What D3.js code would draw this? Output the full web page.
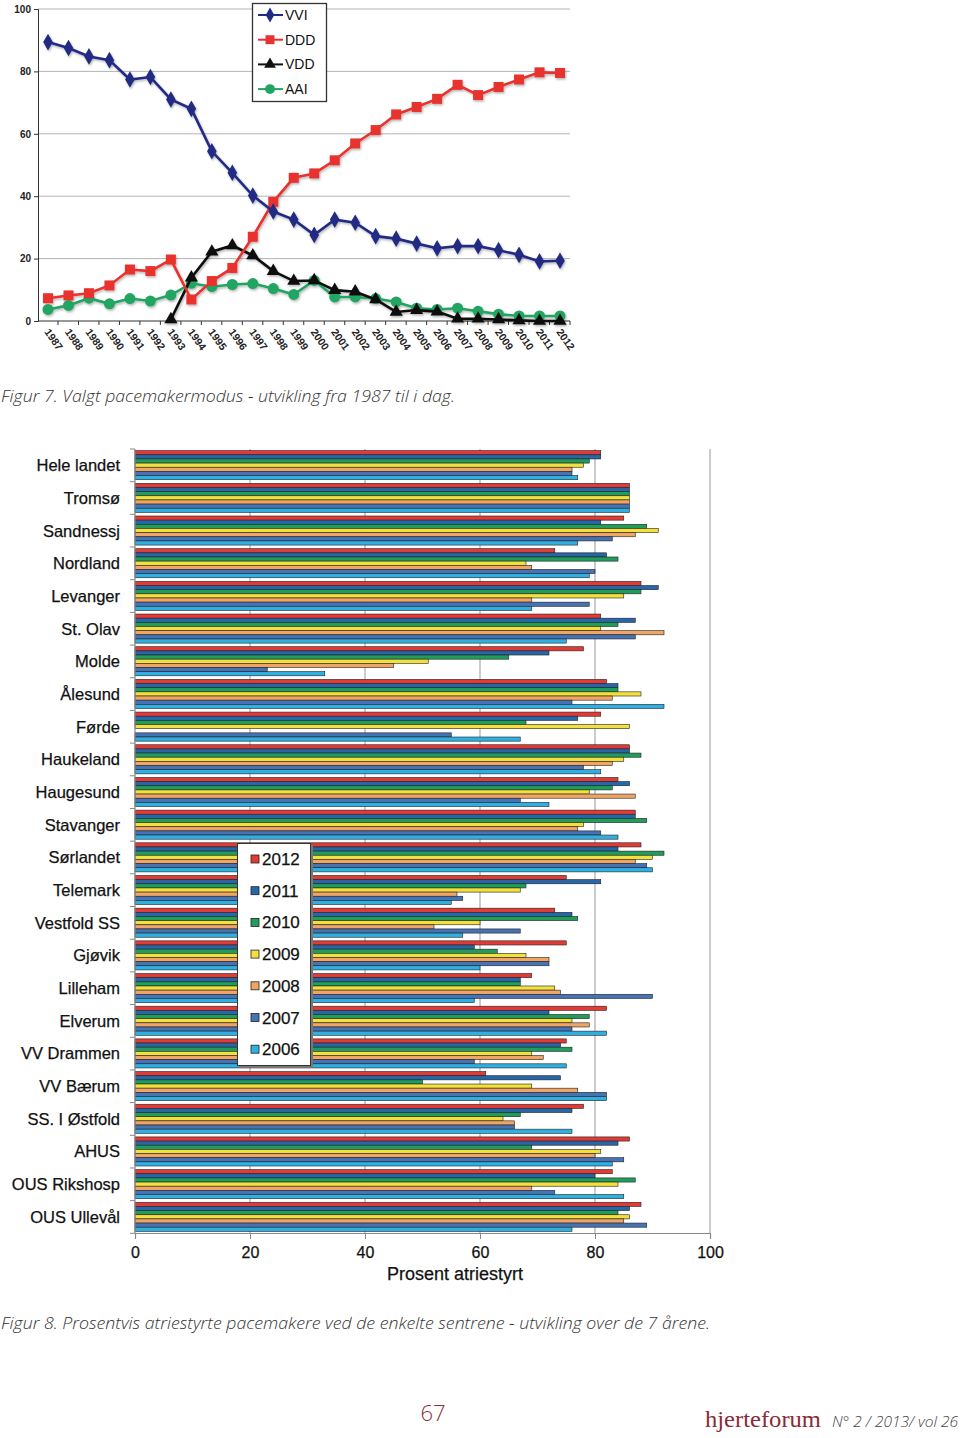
<!DOCTYPE html>
<html>
<head>
<meta charset="utf-8">
<script src="https://cdn.jsdelivr.net/npm/d3@7"></script>
<style>
  body { margin: 0; background: #fff; }
  svg { display: block; }
</style>
</head>
<body>
<svg width="960" height="1438"></svg>
<script>
// ---- Figur 7: pacemaker mode per year ----
const years = [1987, 1988, 1989, 1990, 1991, 1992, 1993, 1994, 1995, 1996, 1997, 1998, 1999,
               2000, 2001, 2002, 2003, 2004, 2005, 2006, 2007, 2008, 2009, 2010, 2011, 2012];
const vvi = [89.4, 87.5, 84.8, 83.6, 77.4, 78.2, 71, 68, 54.4, 47.5, 40.2, 35.1, 32.5,
             27.6, 32.5, 31.5, 27.2, 26.4, 24.8, 23.3, 24, 24, 22.7, 21.2, 19.1, 19.3];
const ddd = [7.3, 8.2, 8.9, 11.4, 16.5, 16, 19.7, 6.9, 12.8, 17, 27, 38.2, 45.9,
             47.3, 51.5, 56.9, 61.2, 66.2, 68.6, 71.2, 75.7, 72.4, 75, 77.4, 79.7, 79.5];
const vdd = [null, null, null, null, null, null, 0.5, 13.9, 22.2, 24.2, 21, 16, 12.8,
             13, 9.9, 9.4, 6.9, 2.9, 3.5, 3, 0.7, 0.7, 0.5, 0.2, 0, 0];
const aai = [3.7, 5, 7.3, 5.5, 7.2, 6.4, 8.3, 12.1, 11, 11.7, 12, 10.4, 8.5,
             13, 7.7, 7.7, 7.2, 6.1, 4.1, 3.7, 4.1, 3.1, 2.2, 1.6, 1.6, 1.6];
const modeNames = ['VVI', 'DDD', 'VDD', 'AAI'];
const modeTicks = [0, 20, 40, 60, 80, 100];

// ---- Figur 8: percent atrial-controlled per centre ----
const centers = ['Hele landet', 'Tromsø', 'Sandnessj', 'Nordland', 'Levanger', 'St. Olav', 'Molde',
                 'Ålesund', 'Førde', 'Haukeland', 'Haugesund', 'Stavanger', 'Sørlandet', 'Telemark',
                 'Vestfold SS', 'Gjøvik', 'Lilleham', 'Elverum', 'VV Drammen', 'VV Bærum',
                 'SS. I Østfold', 'AHUS', 'OUS Rikshosp', 'OUS Ullevål'];
const barYears = ['2012', '2011', '2010', '2009', '2008', '2007', '2006'];
const pct2012 = [81, 86, 85, 73, 88, 81, 78, 82, 81, 86, 84, 87, 88, 75, 73, 75, 69, 82, 75, 61, 78, 86, 83, 88];
const pct2011 = [81, 86, 81, 82, 91, 87, 72, 84, 77, 86, 86, 87, 84, 81, 76, 59, 67, 72, 74, 74, 76, 84, 80, 86];
const pct2010 = [79, 86, 89, 84, 88, 84, 65, 84, 68, 88, 83, 89, 92, 68, 77, 63, 67, 79, 76, 50, 67, 69, 87, 84];
const pct2009 = [78, 86, 91, 68, 85, 81, 51, 88, 86, 85, 79, 78, 90, 67, 60, 68, 73, 76, 69, 69, 64, 81, 84, 86];
const pct2008 = [76, 86, 87, 69, 69, 92, 45, 83, null, 83, 87, 77, 87, 56, 52, 72, 74, 79, 71, 77, 66, 80, 69, 85];
const pct2007 = [76, 86, 83, 80, 79, 87, 23, 76, 55, 78, 67, 81, 89, 57, 67, 72, 90, 76, 59, 82, 66, 85, 73, 89];
const pct2006 = [77, 86, 77, 79, 69, 75, 33, 92, 67, 81, 72, 84, 90, 55, 57, 60, 59, 82, 75, 82, 76, 83, 85, 76];
const pctTicks = [0, 20, 40, 60, 80, 100];

const svg = d3.select('svg');
const sans = 'Liberation Sans, Arial, sans-serif';

// drop shadow used by the line chart
const defs = svg.append('defs');
defs.append('filter').attr('id', 'shadow')
    .attr('x', '-10%').attr('y', '-10%').attr('width', '130%').attr('height', '130%')
  .append('feDropShadow')
    .attr('dx', 1).attr('dy', 1.5).attr('stdDeviation', 1)
    .attr('flood-color', '#000').attr('flood-opacity', 0.3);

/* ================= Figur 7 ================= */
const x1 = d3.scalePoint().domain(years).range([48, 560]);
const y1 = d3.scaleLinear().domain([0, 100]).range([321, 9]);

const modeChart = svg.append('g');

// gridlines
modeChart.append('g').selectAll('line')
    .data(modeTicks.filter(d => d > 0))
    .enter().append('line')
        .attr('x1', 38).attr('x2', 570)
        .attr('y1', d => y1(d)).attr('y2', d => y1(d))
        .attr('stroke', '#b4b4b4').attr('stroke-width', 1);

const yAxis1 = modeChart.append('g')
    .attr('transform', 'translate(38,0)')
    .call(d3.axisLeft(y1).tickValues(modeTicks).tickSize(4).tickPadding(3));
yAxis1.select('.domain').attr('stroke', '#333');
yAxis1.selectAll('.tick line').attr('stroke', '#333');
yAxis1.selectAll('text').attr('font-family', sans).attr('font-size', 10)
    .attr('font-weight', 'bold').attr('fill', '#222');

// x axis line + rotated year labels
modeChart.append('line')
    .attr('x1', 38).attr('x2', 570).attr('y1', y1(0)).attr('y2', y1(0))
    .attr('stroke', '#333').attr('stroke-width', 1.2);
modeChart.append('g').selectAll('line')
    .data(years)
    .enter().append('line')
        .attr('x1', d => x1(d) + 10).attr('x2', d => x1(d) + 10)
        .attr('y1', y1(0)).attr('y2', y1(0) + 4)
        .attr('stroke', '#333');
modeChart.append('g').selectAll('text')
    .data(years)
    .enter().append('text')
        .attr('transform', d => 'translate(' + (x1(d) - 4) + ',' + (y1(0) + 11) + ') rotate(55)')
        .attr('font-family', sans).attr('font-size', 10.5).attr('font-weight', 'bold')
        .attr('fill', '#222')
        .text(d => d);

const series = [
    { name: 'VVI', values: vvi, color: '#212c84', symbol: d3.symbolDiamond, size: 80 },
    { name: 'DDD', values: ddd, color: '#e8322f', symbol: d3.symbolSquare, size: 100 },
    { name: 'VDD', values: vdd, color: '#111111', symbol: d3.symbolTriangle, size: 75 },
    { name: 'AAI', values: aai, color: '#21a462', symbol: d3.symbolCircle, size: 95 }
];

const line1 = d3.line()
    .defined(d => d.v != null)
    .x(d => x1(d.year))
    .y(d => y1(d.v));

const seriesG = modeChart.append('g').attr('filter', 'url(#shadow)');
series.slice().reverse().forEach(s => {
    const pts = years.map((year, i) => ({ year: year, v: s.values[i] }));
    seriesG.append('path')
        .datum(pts)
        .attr('fill', 'none')
        .attr('stroke', s.color)
        .attr('stroke-width', 2.6)
        .attr('d', line1);
    seriesG.append('g').selectAll('path')
        .data(pts.filter(d => d.v != null))
        .enter().append('path')
            .attr('d', d3.symbol().type(s.symbol).size(s.size))
            .attr('transform', d => 'translate(' + x1(d.year) + ',' + y1(d.v) + ')')
            .attr('fill', s.color);
});

// legend
const leg1 = modeChart.append('g');
leg1.append('rect')
    .attr('x', 252.5).attr('y', 3.5).attr('width', 74).attr('height', 98)
    .attr('fill', '#fff').attr('stroke', '#333').attr('stroke-width', 1.3);
series.forEach((s, i) => {
    const ly = 15 + i * 24.7;
    leg1.append('line')
        .attr('x1', 258).attr('x2', 283).attr('y1', ly).attr('y2', ly)
        .attr('stroke', s.color).attr('stroke-width', 2);
    leg1.append('path')
        .attr('d', d3.symbol().type(s.symbol).size(s.size * 0.8))
        .attr('transform', 'translate(270,' + ly + ')')
        .attr('fill', s.color);
    leg1.append('text')
        .attr('x', 285).attr('y', ly + 5)
        .attr('font-family', sans).attr('font-size', 14).attr('fill', '#111')
        .text(s.name);
});

svg.append('text')
    .attr('x', 1).attr('y', 402)
    .attr('font-family', 'Open Sans, sans-serif').attr('font-style', 'italic')
    .attr('font-weight', 300).attr('font-size', 17).attr('fill', '#333')
    .attr('textLength', 454).attr('lengthAdjust', 'spacingAndGlyphs')
    .text('Figur 7. Valgt pacemakermodus - utvikling fra 1987 til i dag.');

/* ================= Figur 8 ================= */
const pctByYear = { '2012': pct2012, '2011': pct2011, '2010': pct2010, '2009': pct2009,
                    '2008': pct2008, '2007': pct2007, '2006': pct2006 };
const barColors = d3.scaleOrdinal()
    .domain(barYears)
    .range(['#e33a35', '#2766a8', '#1e9e5a', '#f2e03c', '#f0a565', '#4673b5', '#2fb0e2']);

const x2 = d3.scaleLinear().domain([0, 100]).range([135, 710]);
const y2 = d3.scaleBand().domain(centers).range([449, 1233]).paddingInner(0.11).paddingOuter(0.05);
const yy = d3.scaleBand().domain(barYears).range([0, y2.bandwidth()]);

const bars = svg.append('g');

// vertical gridlines
bars.append('g').selectAll('line')
    .data(pctTicks.filter(d => d > 0))
    .enter().append('line')
        .attr('x1', d => x2(d)).attr('x2', d => x2(d))
        .attr('y1', 449).attr('y2', 1233)
        .attr('stroke', '#a8a8a8').attr('stroke-width', 1.2);

// bars
const barData = [];
centers.forEach((c, i) => {
    barYears.forEach(yr => {
        const v = pctByYear[yr][i];
        if (v != null) barData.push({ center: c, year: yr, v: v });
    });
});
bars.append('g').selectAll('rect')
    .data(barData)
    .enter().append('rect')
        .attr('x', x2(0))
        .attr('y', d => y2(d.center) + yy(d.year))
        .attr('width', d => x2(d.v) - x2(0))
        .attr('height', yy.bandwidth())
        .attr('fill', d => barColors(d.year))
        .attr('stroke', '#222').attr('stroke-width', 0.6);

// left axis with ticks between groups
const step = y2.step();
bars.append('line')
    .attr('x1', 135).attr('x2', 135).attr('y1', 449).attr('y2', 1233)
    .attr('stroke', '#888').attr('stroke-width', 1.2);
bars.append('g').selectAll('line')
    .data(d3.range(centers.length + 1))
    .enter().append('line')
        .attr('x1', 130).attr('x2', 135)
        .attr('y1', i => 449 + i * step).attr('y2', i => 449 + i * step)
        .attr('stroke', '#888');
bars.append('g').selectAll('text')
    .data(centers)
    .enter().append('text')
        .attr('x', 120)
        .attr('y', d => y2(d) + y2.bandwidth() / 2 + 6)
        .attr('text-anchor', 'end')
        .attr('font-family', sans).attr('font-size', 16.5).attr('fill', '#111')
        .attr('stroke', '#111').attr('stroke-width', 0.25)
        .text(d => d);

const xAxis2 = bars.append('g')
    .attr('transform', 'translate(0,1233)')
    .call(d3.axisBottom(x2).tickValues(pctTicks).tickSize(6).tickPadding(8));
xAxis2.select('.domain').attr('stroke', '#888').attr('stroke-width', 1.2);
xAxis2.selectAll('.tick line').attr('stroke', '#888');
xAxis2.selectAll('text').attr('font-family', sans).attr('font-size', 16).attr('fill', '#111')
    .attr('stroke', '#111').attr('stroke-width', 0.25);

bars.append('text')
    .attr('x', 455).attr('y', 1280)
    .attr('text-anchor', 'middle')
    .attr('font-family', sans).attr('font-size', 18).attr('fill', '#111')
    .attr('stroke', '#111').attr('stroke-width', 0.25)
    .text('Prosent atriestyrt');

// legend
const leg2 = bars.append('g');
leg2.append('rect')
    .attr('x', 239).attr('y', 845).attr('width', 74).attr('height', 223)
    .attr('fill', '#777');
leg2.append('rect')
    .attr('x', 237.5).attr('y', 843.5).attr('width', 73).attr('height', 222)
    .attr('fill', '#fff').attr('stroke', '#333').attr('stroke-width', 1);
barYears.forEach((yr, i) => {
    const ly = 859 + i * 31.7;
    leg2.append('rect')
        .attr('x', 251).attr('y', ly - 4).attr('width', 8).attr('height', 8)
        .attr('fill', barColors(yr)).attr('stroke', '#222').attr('stroke-width', 0.8);
    leg2.append('text')
        .attr('x', 262).attr('y', ly + 6)
        .attr('font-family', sans).attr('font-size', 17).attr('fill', '#111')
        .attr('stroke', '#111').attr('stroke-width', 0.25)
        .text(yr);
});

svg.append('text')
    .attr('x', 1).attr('y', 1329)
    .attr('font-family', 'Open Sans, sans-serif').attr('font-style', 'italic')
    .attr('font-weight', 300).attr('font-size', 17).attr('fill', '#333')
    .attr('textLength', 709).attr('lengthAdjust', 'spacingAndGlyphs')
    .text('Figur 8. Prosentvis atriestyrte pacemakere ved de enkelte sentrene - utvikling over de 7 årene.');

/* ================= page footer ================= */
svg.append('text')
    .attr('x', 433).attr('y', 1421)
    .attr('text-anchor', 'middle')
    .attr('font-family', 'Open Sans, sans-serif').attr('font-weight', 300)
    .attr('font-size', 22).attr('fill', '#8c2a35')
    .text('67');
svg.append('text')
    .attr('x', 705).attr('y', 1427)
    .attr('font-family', 'Liberation Serif, DejaVu Serif, serif')
    .attr('font-size', 24).attr('fill', '#8c2a35')
    .attr('textLength', 116).attr('lengthAdjust', 'spacingAndGlyphs')
    .text('hjerteforum');
svg.append('text')
    .attr('x', 832).attr('y', 1427)
    .attr('font-family', 'Open Sans, sans-serif').attr('font-style', 'italic')
    .attr('font-weight', 300).attr('font-size', 15).attr('fill', '#444')
    .attr('textLength', 126).attr('lengthAdjust', 'spacingAndGlyphs')
    .text('N° 2 / 2013/ vol 26');
</script>
</body>
</html>
